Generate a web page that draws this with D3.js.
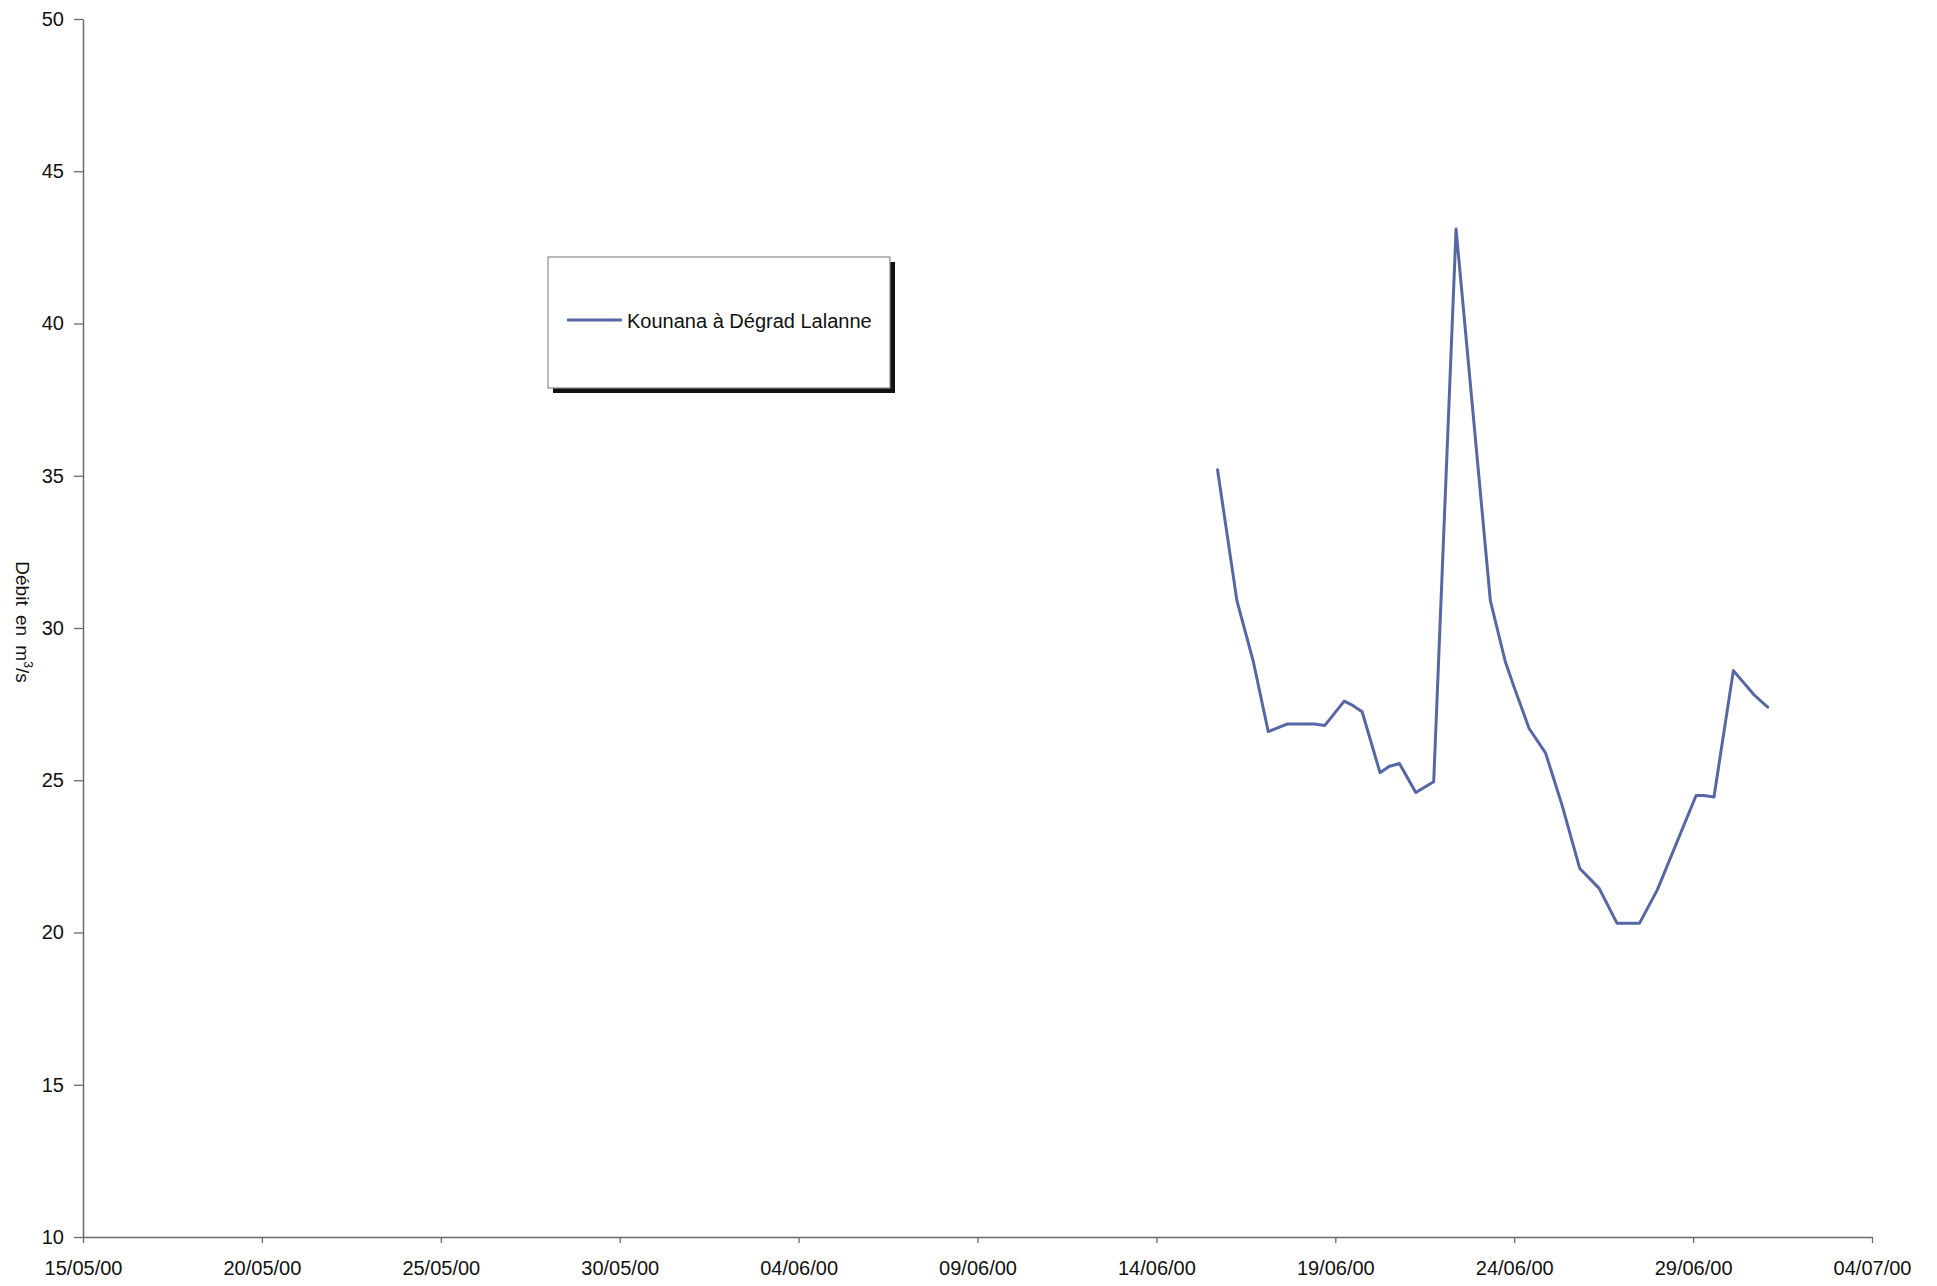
<!DOCTYPE html>
<html>
<head>
<meta charset="utf-8">
<script src="https://cdn.jsdelivr.net/npm/d3@7"></script>
<style>
  html, body { margin: 0; padding: 0; background: #fff; }
  svg { display: block; }
  text { font-family: "Liberation Sans", Arial, sans-serif; fill: #111; }
</style>
</head>
<body>
<script>
// Débit journalier de la Kounana à Dégrad Lalanne (juin 2000)
const seriesName = "Kounana à Dégrad Lalanne";
const times = [
  "2000-06-15T17:00", "2000-06-16T06:00", "2000-06-16T17:00", "2000-06-17T03:00",
  "2000-06-17T16:00", "2000-06-18T10:00", "2000-06-18T17:00", "2000-06-19T06:00",
  "2000-06-19T12:00", "2000-06-19T18:00", "2000-06-20T06:00", "2000-06-20T12:00",
  "2000-06-20T19:00", "2000-06-21T06:00", "2000-06-21T18:00", "2000-06-22T09:00",
  "2000-06-23T08:00", "2000-06-23T18:00", "2000-06-24T00:00", "2000-06-24T10:00",
  "2000-06-24T21:00", "2000-06-25T08:00", "2000-06-25T20:00", "2000-06-26T09:00",
  "2000-06-26T21:00", "2000-06-27T12:00", "2000-06-28T00:00", "2000-06-29T02:00",
  "2000-06-29T07:00", "2000-06-29T14:00", "2000-06-30T03:00", "2000-06-30T17:00",
  "2000-07-01T02:00"
];
const flows = [
  35.2, 30.9, 28.9, 26.6,
  26.85, 26.85, 26.8, 27.6,
  27.45, 27.25, 25.25, 25.45,
  25.55, 24.6, 24.95, 43.1,
  30.9, 28.9, 28.05, 26.7,
  25.9, 24.2, 22.1, 21.45,
  20.3, 20.3, 21.4, 24.5,
  24.5, 24.45, 28.6, 27.8,
  27.4
];
const xTickLabels = ["15/05/00", "20/05/00", "25/05/00", "30/05/00", "04/06/00", "09/06/00",
                     "14/06/00", "19/06/00", "24/06/00", "29/06/00", "04/07/00"];
const yTicks = [10, 15, 20, 25, 30, 35, 40, 45, 50];
const yDomain = [10, 50];

const W = 1937, H = 1286;
const plotLeft = 83, plotRight = 1872, plotTop = 19, plotBottom = 1237;

const parseTime = d3.timeParse("%Y-%m-%dT%H:%M");
const parseTick = d3.timeParse("%d/%m/%y");
const fmtTick = d3.timeFormat("%d/%m/%y");

const data = times.map((t, i) => ({ t: parseTime(t), v: flows[i] }));
const tickDates = xTickLabels.map(parseTick);

const svg = d3.select("body").append("svg").attr("width", W).attr("height", H);
svg.append("rect").attr("width", W).attr("height", H).attr("fill", "#fff");

const x = d3.scaleTime()
  .domain([tickDates[0], tickDates[tickDates.length - 1]])
  .range([plotLeft, plotRight]);
const y = d3.scaleLinear().domain(yDomain).range([plotBottom, plotTop]);

// Axes
const xAxis = svg.append("g")
  .attr("transform", `translate(0,${plotBottom})`)
  .call(d3.axisBottom(x).tickValues(tickDates).tickFormat(fmtTick)
        .tickSize(6).tickSizeOuter(0).tickPadding(18));
const yAxis = svg.append("g")
  .attr("transform", `translate(${plotLeft},0)`)
  .call(d3.axisLeft(y).tickValues(yTicks).tickFormat(d3.format("d"))
        .tickSize(9).tickSizeOuter(0).tickPadding(10));

[xAxis, yAxis].forEach(g => {
  g.select(".domain").attr("stroke", "#6a6a6a").attr("stroke-width", 1.5);
  g.selectAll(".tick line").attr("stroke", "#6a6a6a").attr("stroke-width", 1.3);
  g.selectAll(".tick text").attr("font-size", 20)
    .attr("font-family", "'Liberation Sans', Arial, sans-serif").attr("fill", "#111");
});

// Axis title
const title = svg.append("text")
  .attr("transform", `translate(16,622) rotate(90)`)
  .attr("text-anchor", "middle")
  .attr("font-size", 19)
  .attr("word-spacing", 4);
title.append("tspan").text("Débit en m");
title.append("tspan").attr("font-size", 12).attr("dy", -8).text("3");
title.append("tspan").attr("dy", 8).text("/s");

// Series
const line = d3.line().x(d => x(d.t)).y(d => y(d.v));
svg.append("path")
  .datum(data)
  .attr("d", line)
  .attr("fill", "none")
  .attr("stroke", "#5767a6")
  .attr("stroke-width", 3)
  .attr("stroke-linejoin", "round")
  .attr("stroke-linecap", "round");

// Legend with drop shadow
const lg = svg.append("g").attr("transform", "translate(548,257)");
lg.append("rect").attr("x", 5).attr("y", 5).attr("width", 342).attr("height", 131).attr("fill", "#111");
lg.append("rect").attr("width", 342).attr("height", 131)
  .attr("fill", "#fff").attr("stroke", "#8a8a8a").attr("stroke-width", 1.2);
lg.append("line").attr("x1", 19).attr("x2", 74).attr("y1", 63).attr("y2", 63)
  .attr("stroke", "#5767a6").attr("stroke-width", 2.8);
lg.append("text").attr("x", 79).attr("y", 71).attr("font-size", 20).text(seriesName);
</script>
</body>
</html>
